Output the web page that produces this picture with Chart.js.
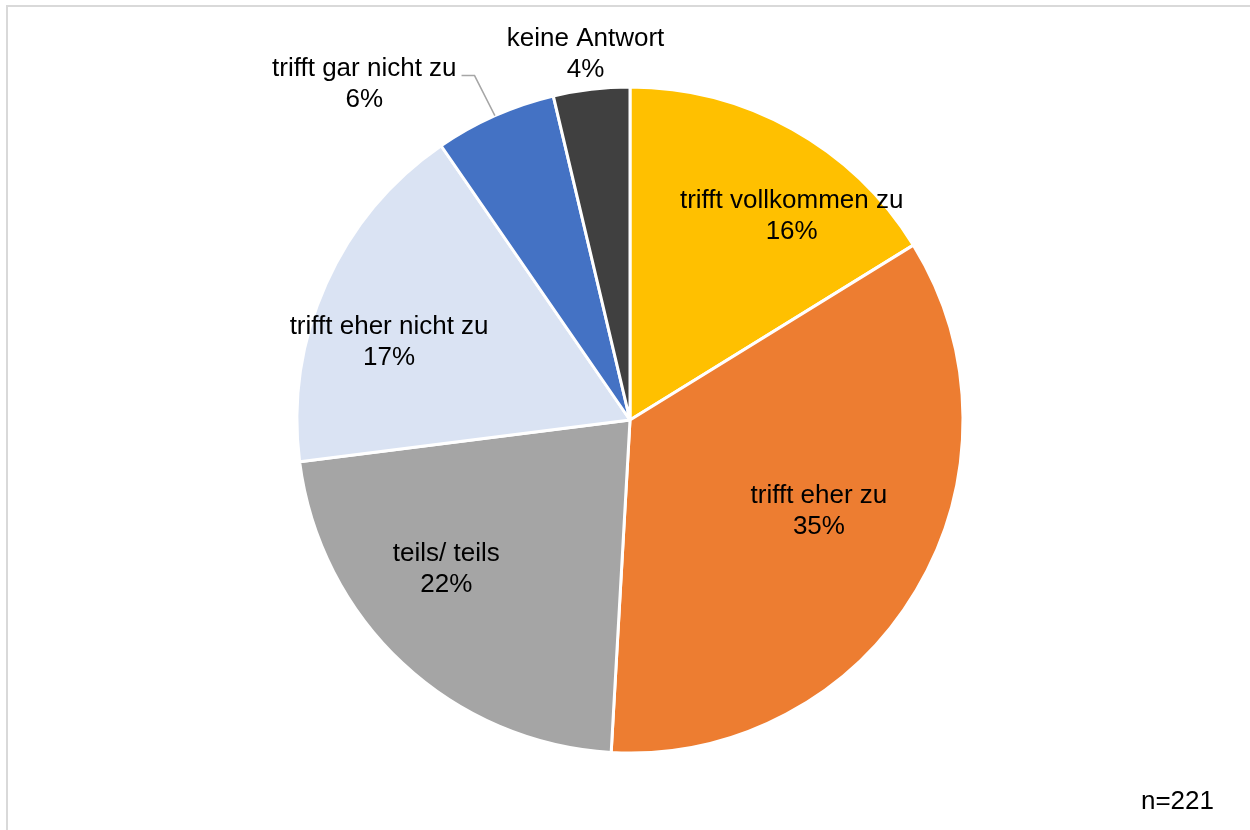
<!DOCTYPE html>
<html>
<head>
<meta charset="utf-8">
<script src="https://cdn.jsdelivr.net/npm/chart.js@4.4.1/dist/chart.umd.min.js"></script>
<style>
  html, body { margin: 0; padding: 0; background: #fff; }
  #wrap { position: relative; width: 1250px; height: 830px; }
  #frame { position: absolute; left: 6px; top: 5px; width: 1300px; height: 900px;
           border-left: 2px solid #d9d9d9; border-top: 2px solid #d9d9d9; }
  canvas { position: absolute; left: 0; top: 0; }
</style>
</head>
<body>
<div id="wrap">
  <div id="frame"></div>
  <canvas id="pieChart" width="1250" height="830"></canvas>
</div>
<script>
const categories = ['trifft vollkommen zu', 'trifft eher zu', 'teils/ teils', 'trifft eher nicht zu', 'trifft gar nicht zu', 'keine Antwort'];
const shares = [16.2, 34.7, 22.1, 17.4, 5.9, 3.7];
const shownPercent = ['16%', '35%', '22%', '17%', '6%', '4%'];
const sampleSize = 'n=221';

const sliceColors = ['#ffc000', '#ed7d31', '#a5a5a5', '#dae3f3', '#4472c4', '#404040'];

// where each label sits: t = fraction along the slice, f = fraction of the radius
const labelPlace = [
  { t: 0.66, f: 0.78 },
  { t: 0.46, f: 0.63 },
  { t: 0.60, f: 0.71 },
  { t: 0.40, f: 0.76 },
  { t: -0.18, f: 1.285, leader: true },
  { t: 0.48, f: 1.107 }
];

const FONT = '26px "Liberation Sans", Arial, sans-serif';

const sliceLabels = {
  id: 'sliceLabels',
  afterDatasetsDraw(chart) {
    const ctx = chart.ctx;
    const arcs = chart.getDatasetMeta(0).data;
    ctx.save();
    ctx.font = FONT;
    ctx.fillStyle = '#000';
    ctx.textAlign = 'center';
    ctx.textBaseline = 'middle';
    arcs.forEach((arc, i) => {
      const p = labelPlace[i];
      const { x, y, startAngle, endAngle, outerRadius } = arc.getProps(['x', 'y', 'startAngle', 'endAngle', 'outerRadius'], true);
      const a = startAngle + p.t * (endAngle - startAngle);
      const lx = x + Math.cos(a) * outerRadius * p.f;
      const ly = y + Math.sin(a) * outerRadius * p.f;
      ctx.fillText(categories[i], lx, ly - 15.5);
      ctx.fillText(shownPercent[i], lx, ly + 15.5);
      if (p.leader) {
        const mid = (startAngle + endAngle) / 2;
        const ax = x + Math.cos(mid) * outerRadius;
        const ay = y + Math.sin(mid) * outerRadius;
        const textRight = lx + ctx.measureText(categories[i]).width / 2;
        ctx.strokeStyle = '#a6a6a6';
        ctx.lineWidth = 1.5;
        ctx.beginPath();
        ctx.moveTo(textRight + 5, ly - 9);
        ctx.lineTo(textRight + 18, ly - 9);
        ctx.lineTo(ax, ay);
        ctx.stroke();
      }
    });
    ctx.textAlign = 'right';
    ctx.fillText(sampleSize, chart.width - 36, 802);
    ctx.restore();
  }
};

document.addEventListener('DOMContentLoaded', function() {
  const ctx = document.getElementById('pieChart').getContext('2d');
  new Chart(ctx, {
    type: 'pie',
    data: {
      labels: categories,
      datasets: [{
        data: shares,
        backgroundColor: sliceColors,
        borderColor: '#ffffff',
        borderWidth: 3
      }]
    },
    options: {
      responsive: false,
      animation: false,
      radius: 333,
      layout: { padding: { left: 10, top: 10 } },
      plugins: {
        legend: { display: false },
        tooltip: { enabled: false }
      }
    },
    plugins: [sliceLabels]
  });
});
</script>
</body>
</html>
